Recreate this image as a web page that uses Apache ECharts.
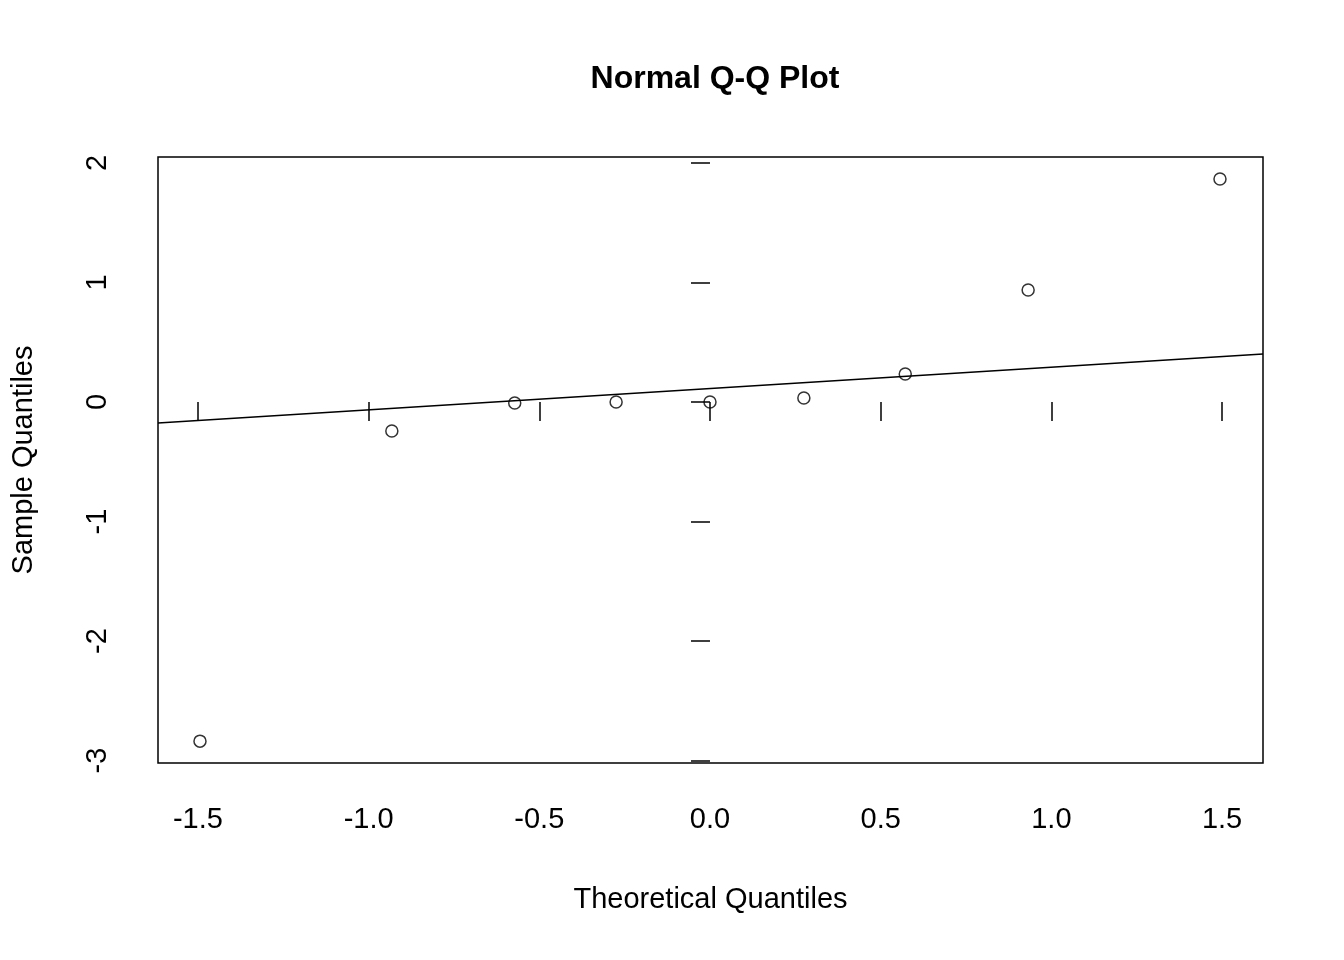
<!DOCTYPE html>
<html><head><meta charset="utf-8">
<script src="https://cdn.jsdelivr.net/npm/echarts@6/dist/echarts.min.js"></script>
<style>html,body{margin:0;background:#fff}#c{width:1344px;height:960px}</style>
</head><body><div id="c"></div>
<script>
// Normal Q-Q plot values
const theoretical = [-1.494, -0.932, -0.572, -0.275, 0, 0.275, 0.572, 0.932, 1.494];
const sample = [-2.837, -0.243, -0.008, 0, 0, 0.033, 0.234, 0.937, 1.866];
const qqLineX = [-1.617, 1.62];
const qqLineY = [-0.176, 0.402];
const xTicks = [-1.5, -1.0, -0.5, 0.0, 0.5, 1.0, 1.5];
const yTicks = [-3, -2, -1, 0, 1, 2];

const chart = echarts.init(document.getElementById('c'));
const font = 'Liberation Sans, Arial, sans-serif';
chart.setOption({
  animation: false,
  title: {
    text: 'Normal Q-Q Plot', left: 710, top: 58, textAlign: 'center',
    textStyle: {fontFamily: font, fontSize: 32, fontWeight: 'bold', color: '#000'}
  },
  grid: {left: 158, top: 157, width: 1105, height: 606, show: true, borderColor: '#000', borderWidth: 1.5},
  xAxis: {
    type: 'value', min: -1.617, max: 1.62,
    name: 'Theoretical Quantiles', nameLocation: 'middle', nameGap: 122,
    nameTextStyle: {fontFamily: font, fontSize: 29, color: '#000'},
    axisLine: {show: false},
    axisTick: {show: true, customValues: xTicks, length: 19, lineStyle: {color: '#000', width: 1.5}},
    axisLabel: {customValues: xTicks, margin: 42, fontFamily: font, fontSize: 29, color: '#000',
      formatter: v => v.toFixed(1)},
    splitLine: {show: false}
  },
  yAxis: {
    type: 'value', min: -3.02, max: 2.05,
    name: 'Sample Quantiles', nameLocation: 'middle', nameGap: 120,
    nameTextStyle: {fontFamily: font, fontSize: 29, color: '#000'},
    axisLine: {show: false},
    axisTick: {show: true, customValues: yTicks, length: 19, lineStyle: {color: '#000', width: 1.5}},
    axisLabel: {customValues: yTicks, rotate: 90, margin: 46, fontFamily: font, fontSize: 29, color: '#000'},
    splitLine: {show: false}
  },
  series: [
    {
      type: 'scatter', data: theoretical.map((x, i) => [x, sample[i]]),
      symbol: 'circle', symbolSize: 12,
      itemStyle: {color: 'transparent', borderColor: '#000', borderWidth: 1.5}
    },
    {
      type: 'line', data: qqLineX.map((x, i) => [x, qqLineY[i]]),
      showSymbol: false, lineStyle: {color: '#000', width: 1.5}
    }
  ]
});
</script></body></html>
